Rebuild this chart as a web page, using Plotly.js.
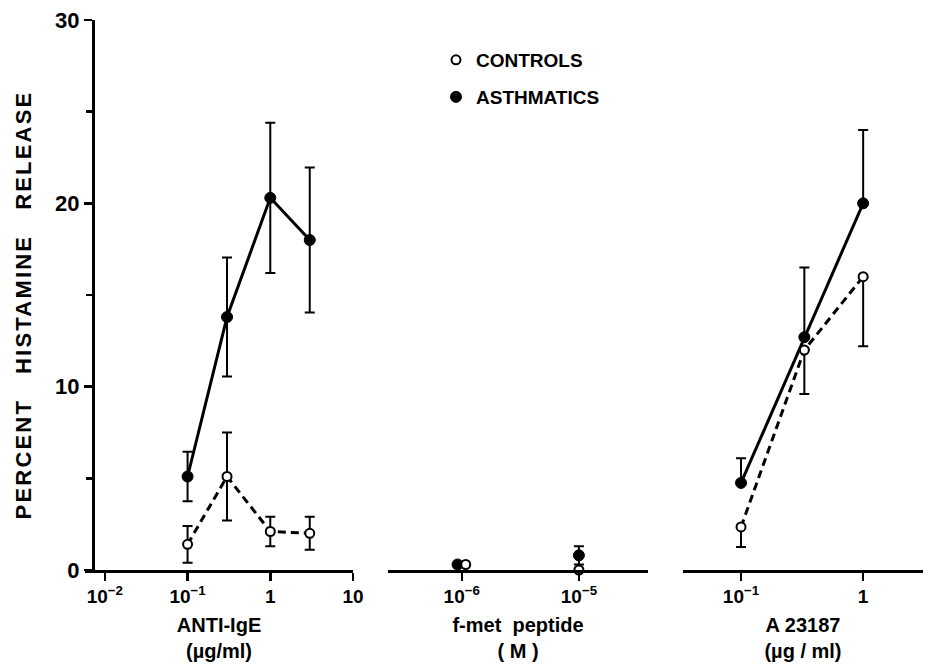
<!DOCTYPE html>
<html>
<head>
<meta charset="utf-8">
<script src="https://cdn.plot.ly/plotly-3.0.1.min.js"></script>
<style>
html,body{margin:0;padding:0;background:#fff;}
.ytitle{letter-spacing:2.2px; translate: 2px 10px;}
</style>
</head>
<body>
<div id="chart" style="width:930px;height:665px;"></div>
<script>
// ---- Panel 1: ANTI-IgE (µg/ml) ----
const igeDose = [0.1, 0.3, 1, 3];
const igeAsthma = [5.1, 13.8, 20.3, 18.0];
const igeAsthmaErr = [1.35, 3.25, 4.1, 3.95];
const igeControl = [1.4, 5.1, 2.1, 2.0];
const igeControlErr = [1.0, 2.4, 0.8, 0.9];

// ---- Panel 2: f-met peptide (M) ----
const fmetDoseAsthma = [0.92e-6, 1e-5];
const fmetAsthma = [0.3, 0.8];
const fmetAsthmaErr = [0, 0.5];
const fmetDoseControl = [1.08e-6, 1e-5];
const fmetControl = [0.3, 0.0];

// ---- Panel 3: A23187 (µg/ml) ----
const a23Dose = [0.1, 0.33, 1];
const a23Asthma = [4.75, 12.7, 20.0];
const a23AsthmaErrUp = [1.35, 3.8, 4.0];
const a23Control = [2.35, 12.0, 16.0];
const a23ControlErrDown = [1.1, 2.4, 3.8];

// tick labels
const ticks1 = [0.01, 0.1, 1, 10];
const ticks1Text = ['10<sup>−2</sup>', '10<sup>−1</sup>', '1', '10'];
const ticks2 = [1e-6, 1e-5];
const ticks2Text = ['10<sup>−6</sup>', '10<sup>−5</sup>'];
const ticks3 = [0.1, 1];
const ticks3Text = ['10<sup>−1</sup>', '1'];
const yTicks = [0, 10, 20, 30];
const yMinorTicks = [5, 15, 25];

const zeros = n => new Array(n).fill(0);
const FONT = 'Liberation Sans, Arial, sans-serif';
const F = (size) => ({size: size, color: '#000', family: FONT, weight: 'bold'});

const filled = {symbol: 'circle', size: 11, color: '#000', line: {color: '#000', width: 1}};
const open = {symbol: 'circle', size: 9, color: '#fff', line: {color: '#000', width: 2}};
const err = (arr, minus) => {
  const e = {type: 'data', array: arr, color: '#000', thickness: 2, width: 5};
  if (minus) { e.symmetric = false; e.arrayminus = minus; } else { e.symmetric = true; }
  return e;
};

const traces = [
  // panel 1
  {x: igeDose, y: igeAsthma, xaxis: 'x', yaxis: 'y', mode: 'lines+markers', showlegend: false,
   line: {color: '#000', width: 3}, marker: filled, error_y: err(igeAsthmaErr), cliponaxis: false},
  {x: igeDose, y: igeControl, xaxis: 'x', yaxis: 'y', mode: 'lines+markers', showlegend: false,
   line: {color: '#000', width: 3, dash: '8px,5px'}, marker: open, error_y: err(igeControlErr), cliponaxis: false},
  // panel 2 (also legend entries)
  {x: fmetDoseAsthma, y: fmetAsthma, xaxis: 'x2', yaxis: 'y', mode: 'markers', name: 'ASTHMATICS',
   legend: 'legend2', marker: filled, error_y: err(fmetAsthmaErr), cliponaxis: false},
  {x: fmetDoseControl, y: fmetControl, xaxis: 'x2', yaxis: 'y', mode: 'markers', name: 'CONTROLS',
   legend: 'legend', marker: open, cliponaxis: false},
  // panel 3
  {x: a23Dose, y: a23Asthma, xaxis: 'x3', yaxis: 'y', mode: 'lines+markers', showlegend: false,
   line: {color: '#000', width: 3}, marker: filled, error_y: err(a23AsthmaErrUp, zeros(3)), cliponaxis: false},
  {x: a23Dose, y: a23Control, xaxis: 'x3', yaxis: 'y', mode: 'lines+markers', showlegend: false,
   line: {color: '#000', width: 3, dash: '8px,5px'}, marker: open, error_y: err(zeros(3), a23ControlErrDown), cliponaxis: false}
];

const W = 930;
const xBase = {
  type: 'log', anchor: 'y', showline: true, linecolor: '#000', linewidth: 2.5,
  ticks: 'outside', ticklen: 8, tickwidth: 2.5, tickcolor: '#000',
  showgrid: false, zeroline: false, tickfont: F(19),
  fixedrange: true
};
const xTitle = (t) => ({text: t, font: F(20), standoff: 12});

const layout = {
  width: 930, height: 665,
  margin: {l: 0, r: 0, t: 20, b: 95},
  paper_bgcolor: '#fff', plot_bgcolor: 'rgba(0,0,0,0)',
  font: {family: FONT, color: '#000'},
  xaxis: Object.assign({}, xBase, {domain: [85 / W, 353 / W], range: [-2.24, 1.0],
    tickvals: ticks1, ticktext: ticks1Text, title: xTitle('ANTI-IgE<br>(µg/ml)')}),
  xaxis2: Object.assign({}, xBase, {domain: [388 / W, 648 / W], range: [-6.63, -4.41],
    tickvals: ticks2, ticktext: ticks2Text, title: xTitle('f-met  peptide<br>( M )')}),
  xaxis3: Object.assign({}, xBase, {domain: [683 / W, 923 / W], range: [-1.475, 0.49],
    tickvals: ticks3, ticktext: ticks3Text, title: xTitle('A 23187<br>(µg / ml)')}),
  yaxis: {
    range: [0, 30], anchor: 'free', position: 93 / W,
    showline: true, linecolor: '#000', linewidth: 2.5,
    ticks: 'outside', ticklen: 8, tickwidth: 2.5, tickcolor: '#000',
    tickvals: yTicks,
    minor: {tickvals: yMinorTicks, ticks: 'outside', ticklen: 6, tickwidth: 2.5, tickcolor: '#000', showgrid: false},
    showgrid: false, zeroline: false,
    tickfont: F(22),
    title: {text: 'PERCENT\u00A0\u00A0\u00A0HISTAMINE\u00A0\u00A0\u00A0RELEASE', font: F(22), standoff: 18},
    fixedrange: true
  },
  legend: {x: 436 / W, y: (570 - 60) / 550, xanchor: 'left', yanchor: 'middle',
    font: F(19), bgcolor: 'rgba(0,0,0,0)', itemwidth: 30},
  legend2: {x: 436 / W, y: (570 - 97) / 550, xanchor: 'left', yanchor: 'middle',
    font: F(19), bgcolor: 'rgba(0,0,0,0)', itemwidth: 30},
  showlegend: true
};

Plotly.newPlot('chart', traces, layout, {displayModeBar: false, staticPlot: true});
</script>
</body>
</html>
